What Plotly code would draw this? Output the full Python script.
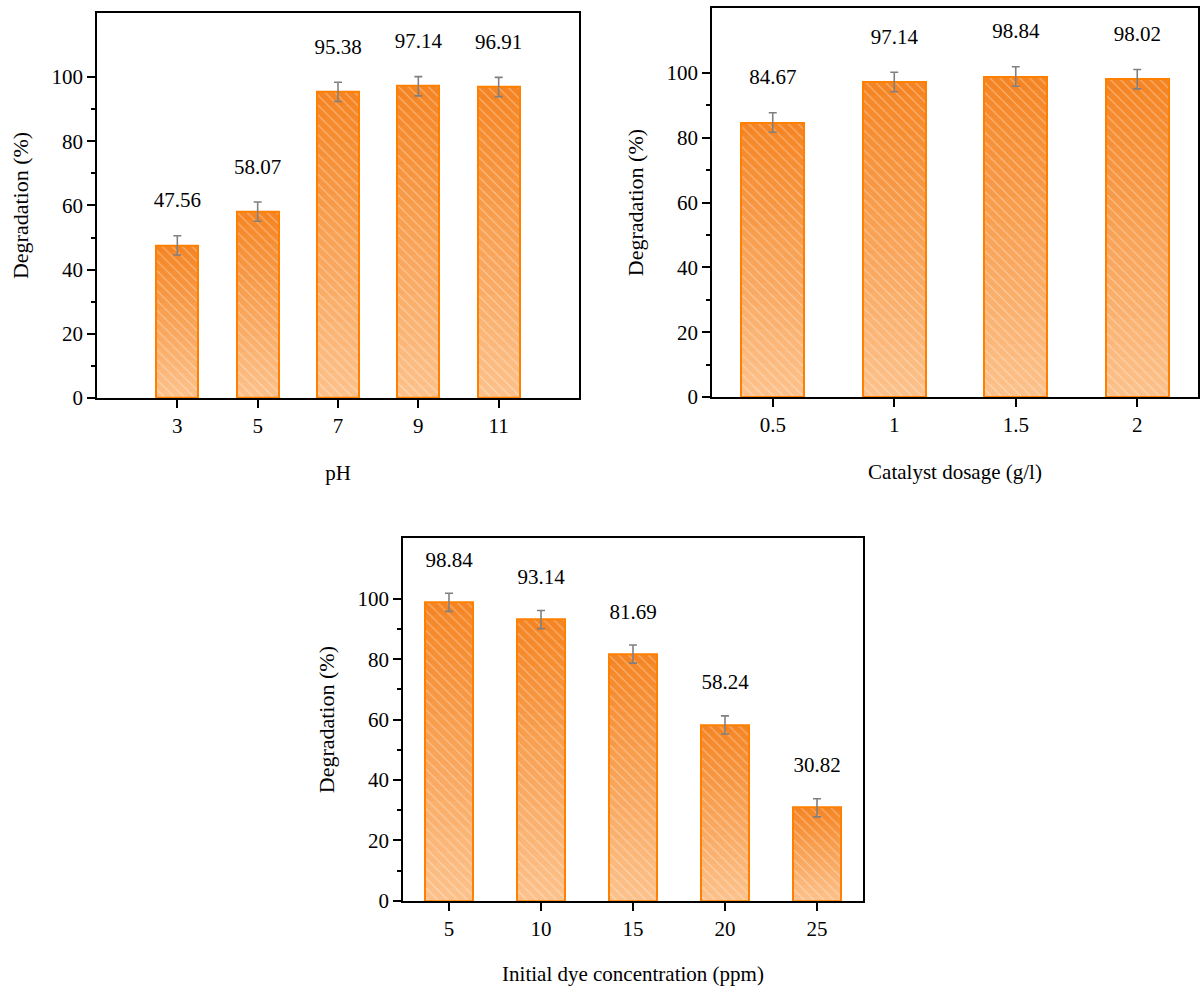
import plotly.graph_objects as go

# ---------------- data ----------------
ph_labels = ["3", "5", "7", "9", "11"]
ph_values = [47.56, 58.07, 95.38, 97.14, 96.91]
ph_err = [3, 3, 3, 3, 3]

dose_labels = ["0.5", "1", "1.5", "2"]
dose_values = [84.67, 97.14, 98.84, 98.02]
dose_err = [3, 3, 3, 3]

conc_labels = ["5", "10", "15", "20", "25"]
conc_values = [98.84, 93.14, 81.69, 58.24, 30.82]
conc_err = [3, 3, 3, 3, 3]

y_ticks = [0, 20, 40, 60, 80, 100]
y_minor = [10, 30, 50, 70, 90]

# ---------------- style ----------------
W, H = 1204, 986
FONT = "Liberation Serif, Times New Roman, serif"
N_SEG = 24
C_TOP = (245, 132, 34)
C_BOT = (252, 194, 140)
EDGE = "#FF8000"
BAR_W = 0.52


def seg_color(k):
    t = (k + 0.5) / N_SEG  # 0 bottom -> 1 top
    r, g, b = [int(round(C_BOT[i] + (C_TOP[i] - C_BOT[i]) * t)) for i in range(3)]
    return f"rgb({r},{g},{b})"


fig = go.Figure()

panels = [
    (ph_labels, ph_values, ph_err, "x", "y", "pH", [-1, 5], (97, 579), (13, 403)),
    (dose_labels, dose_values, dose_err, "x2", "y2", "Catalyst dosage (g/l)", [-0.5, 3.5], (712, 1198), (8, 402)),
    (conc_labels, conc_values, conc_err, "x3", "y3", "Initial dye concentration (ppm)", [-0.5, 4.5], (403, 863), (545, 912)),
]

layout_axes = {}
for i, (labs, vals, errs, xa, ya, xtitle, xr, (x0, x1), (y0, y1)) in enumerate(panels):
    # gradient body
    for k in range(N_SEG):
        fig.add_trace(go.Bar(
            x=labs, y=[v / N_SEG for v in vals], base=[v * k / N_SEG for v in vals],
            width=BAR_W, xaxis=xa, yaxis=ya,
            marker=dict(color=seg_color(k), line=dict(width=0)),
            hoverinfo="skip", showlegend=False,
        ))
    # hatch + outline + error bars
    fig.add_trace(go.Bar(
        x=labs, y=vals, width=BAR_W, xaxis=xa, yaxis=ya,
        marker=dict(
            color="rgba(0,0,0,0)",
            line=dict(color=EDGE, width=2),
            pattern=dict(shape="\\", fgcolor="rgba(255,255,255,0.8)", bgcolor="rgba(0,0,0,0)",
                         size=7, solidity=0.16, fillmode="overlay"),
        ),
        error_y=dict(type="data", array=errs, color="#808080", thickness=1.6, width=4),
        showlegend=False,
    ))
    # value labels
    fig.add_trace(go.Scatter(
        x=labs, y=[v + 13.5 for v in vals], xaxis=xa, yaxis=ya,
        mode="text", text=[f"{v:.2f}" for v in vals],
        textfont=dict(family=FONT, size=21, color="black"),
        hoverinfo="skip", showlegend=False,
    ))

    sfx = "" if i == 0 else str(i + 1)
    layout_axes["xaxis" + sfx] = dict(
        domain=[x0 / W, x1 / W], anchor="y" + sfx, type="category", range=xr,
        showline=True, mirror=True, linecolor="black", linewidth=1.8,
        ticks="outside", ticklen=8, tickwidth=1.5, tickcolor="black",
        showgrid=False, zeroline=False,
        tickfont=dict(family=FONT, size=21, color="black"),
        title=dict(text=xtitle, font=dict(family=FONT, size=21, color="black"), standoff=28),
    )
    layout_axes["yaxis" + sfx] = dict(
        domain=[1 - y1 / H, 1 - y0 / H], anchor="x" + sfx, range=[0, 120],
        tickmode="array", tickvals=y_ticks,
        showline=True, mirror=True, linecolor="black", linewidth=1.8,
        ticks="outside", ticklen=8, tickwidth=1.5, tickcolor="black",
        minor=dict(tickmode="array", tickvals=y_minor, ticks="outside", ticklen=4, tickwidth=1.5, tickcolor="black"),
        showgrid=False, zeroline=False,
        tickfont=dict(family=FONT, size=21, color="black"),
        title=dict(text="Degradation (%)", font=dict(family=FONT, size=22, color="black"), standoff=17),
    )

fig.update_layout(
    width=W, height=H, margin=dict(l=0, r=0, t=0, b=0),
    paper_bgcolor="white", plot_bgcolor="white",
    barmode="overlay", bargap=0,
    **layout_axes,
)

fig.write_html("out.html")
